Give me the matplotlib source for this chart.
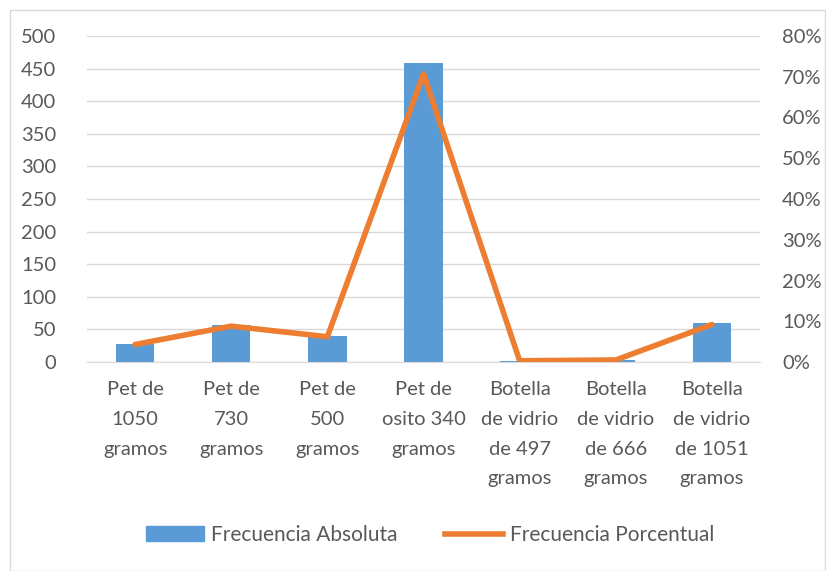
import matplotlib.pyplot as plt
from matplotlib.ticker import PercentFormatter
from matplotlib.patches import Rectangle

plt.rcParams['font.family'] = ['Lato', 'DejaVu Sans']

categorias = ["Pet de\n1050\ngramos", "Pet de\n730\ngramos", "Pet de\n500\ngramos",
              "Pet de\nosito 340\ngramos", "Botella\nde vidrio\nde 497\ngramos",
              "Botella\nde vidrio\nde 666\ngramos", "Botella\nde vidrio\nde 1051\ngramos"]
absoluta = [28, 57, 40, 459, 2, 3, 60]
porcentual = [0.043, 0.088, 0.062, 0.707, 0.003, 0.005, 0.092]

azul = '#5B9BD5'
naranja = '#ED7D31'
gris = '#595959'

fig = plt.figure(figsize=(8.26, 5.71), dpi=100)
ax = fig.add_axes([87 / 826, 1 - 362 / 571, (760 - 87) / 826, (362 - 36) / 571])

x = range(len(categorias))
ax.bar(x, absoluta, width=0.4, color=azul, zorder=2)
ax.set_ylim(0, 500)
ax.set_xlim(-0.5, len(categorias) - 0.5)
ax.set_yticks(range(0, 501, 50))
ax.set_xticks(list(x))
ax.set_xticklabels(categorias, fontsize=14.5, color=gris, linespacing=1.9)
ax.tick_params(axis='y', labelsize=14.5, labelcolor=gris, length=0, pad=22)
ax.tick_params(axis='x', length=0, pad=14)
ax.grid(axis='y', color='#D9D9D9', linewidth=1, zorder=0)
for s in ax.spines.values():
    s.set_visible(False)
ax.spines['bottom'].set_visible(True)
ax.spines['bottom'].set_color('#D9D9D9')

ax2 = ax.twinx()
ax2.plot(x, porcentual, color=naranja, linewidth=4, solid_capstyle='round', zorder=3)
ax2.set_ylim(0, 0.8)
ax2.set_yticks([i / 10 for i in range(9)])
ax2.yaxis.set_major_formatter(PercentFormatter(1.0, decimals=0))
ax2.tick_params(axis='y', labelsize=14.5, labelcolor=gris, length=0, pad=16)
for s in ax2.spines.values():
    s.set_visible(False)

# marco del grafico
fig.patches.append(Rectangle((10 / 826, 0), 815 / 826, 1 - 10 / 571, transform=fig.transFigure,
                             fill=False, edgecolor='#D9D9D9', linewidth=1))

h1 = Rectangle((0, 0), 1, 1, color=azul)
h2 = plt.Line2D([], [], color=naranja, linewidth=4)
fig.legend([h1, h2], ["Frecuencia Absoluta", "Frecuencia Porcentual"], loc='center',
           bbox_to_anchor=(430 / 826, 1 - 535 / 571), ncol=2, frameon=False, fontsize=15,
           labelcolor=gris, handlelength=2.8, columnspacing=2.3, handletextpad=0.3)

fig.savefig("out.png", dpi=100)
